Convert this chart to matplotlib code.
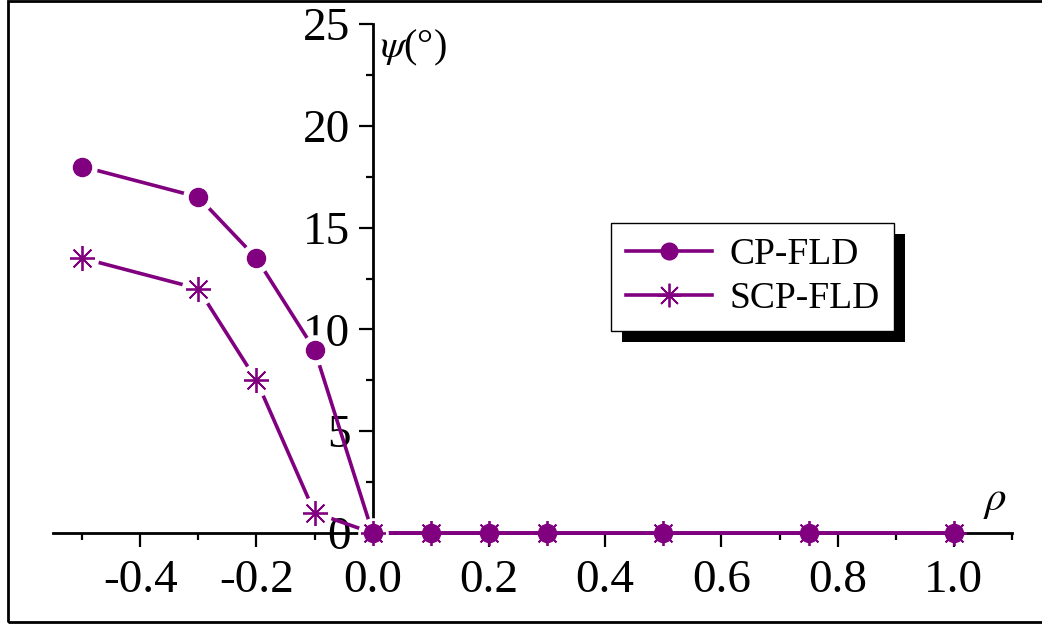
import matplotlib
matplotlib.use("Agg")
import matplotlib.pyplot as plt
from matplotlib.patches import Rectangle
from matplotlib.ticker import MultipleLocator
from matplotlib.transforms import IdentityTransform

plt.rcParams['font.family'] = ['Liberation Serif', 'DejaVu Serif']
plt.rcParams['mathtext.fontset'] = 'stix'

rho = [-0.5, -0.3, -0.2, -0.1, 0.0, 0.1, 0.2, 0.3, 0.5, 0.75, 1.0]
cp_fld = [18.0, 16.5, 13.5, 9.0, 0, 0, 0, 0, 0, 0, 0]
scp_fld = [13.5, 12.0, 7.5, 1.0, 0, 0, 0, 0, 0, 0, 0]
series_labels = ['CP-FLD', 'SCP-FLD']
xticks = [-0.4, -0.2, 0.0, 0.2, 0.4, 0.6, 0.8, 1.0]
xtick_labels = ['-0.4', '-0.2', '0.0', '0.2', '0.4', '0.6', '0.8', '1.0']
yticks = [0, 5, 10, 15, 20, 25]

color = '#800080'
LW = 2.6

fig = plt.figure(figsize=(10.42, 6.25), dpi=100)
ax = fig.add_axes([0.0509, 0.1472, 0.9203, 0.8144])

# outer frame
fig.patches.append(Rectangle((8 / 1042, 3 / 625), 1.2, 1 - 4 / 625, transform=fig.transFigure,
                             fill=False, edgecolor='black', linewidth=2.0, clip_on=False))

# lines
ax.plot(rho, cp_fld, color=color, lw=LW, zorder=3, clip_on=False)
ax.plot(rho, scp_fld, color=color, lw=LW, zorder=3, clip_on=False)
# white gaps around markers (Origin style)
ax.plot(rho, cp_fld, ls='none', marker='o', ms=22, mfc='white', mec='none', markevery=range(5), zorder=3.5, clip_on=False)
ax.plot(rho, scp_fld, ls='none', marker='o', ms=24, mfc='white', mec='none', markevery=range(4), zorder=3.5, clip_on=False)
# markers
ax.plot(rho, scp_fld, ls='none', marker=(8, 2, 0), ms=18, mec=color, mew=1.3, zorder=4, clip_on=False)
ax.plot(rho, cp_fld, ls='none', marker='o', ms=13, mfc=color, mec=color, zorder=4.5, clip_on=False)

# legend handles
h1, = ax.plot([], [], color=color, lw=LW, marker='o', ms=12, mfc=color, mec=color)
h2, = ax.plot([], [], color=color, lw=LW, marker=(8, 2, 0), ms=17, mec=color, mew=1.3)
leg = ax.legend([h1, h2], series_labels, loc='upper left', bbox_to_anchor=((611 - 53) / 959, 1 - (223 - 24) / 509),
                fontsize=27, frameon=True, fancybox=False, shadow=False, framealpha=1,
                handlelength=2.3, handletextpad=0.45, borderpad=0.4, labelspacing=0.25, borderaxespad=0)
leg.get_frame().set_edgecolor('black')
leg.get_frame().set_facecolor('white')
leg.get_frame().set_linewidth(1.0)
leg.set_zorder(6)

ax.set_xlim(-0.55, 1.1)
ax.set_ylim(0, 25)

ax.spines['left'].set_position(('data', 0))
ax.spines['top'].set_visible(False)
ax.spines['right'].set_visible(False)
for s in ('left', 'bottom'):
    ax.spines[s].set_linewidth(2.0)
    ax.spines[s].set_zorder(2)

ax.set_xticks(xticks)
ax.set_xticklabels(xtick_labels)
ax.set_yticks(yticks)
ax.xaxis.set_minor_locator(MultipleLocator(0.1))
ax.yaxis.set_minor_locator(MultipleLocator(2.5))
ax.tick_params(which='major', direction='out', length=10, width=1.6, labelsize=34, pad=6)
ax.tick_params(which='minor', direction='out', length=5, width=1.6)
ax.tick_params(axis='x', which='major', pad=9)

ax.text(0.012, 24.8, r'$\psi$(°)', fontsize=29, va='top', ha='left')
ax.text(1.07, 0.6, r'$\rho$', fontsize=31, va='bottom', ha='center')

# Origin-style solid shadow behind legend
fig.canvas.draw()
bb = leg.get_frame().get_window_extent()
ax.add_patch(Rectangle((bb.x0 + 11, bb.y0 - 11), bb.width, bb.height, transform=IdentityTransform(),
                       facecolor='black', edgecolor='none', zorder=5.9, clip_on=False))

fig.savefig('out.png', dpi=100)
